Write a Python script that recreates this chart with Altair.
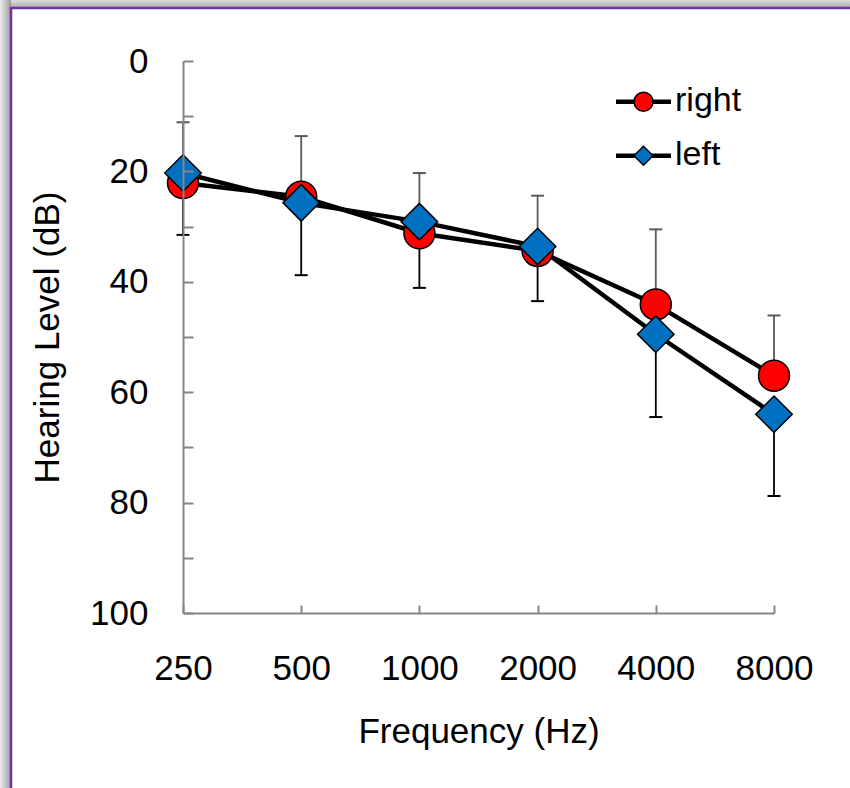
import altair as alt
import pandas as pd

# ---------------- data ----------------
freqs = ["250", "500", "1000", "2000", "4000", "8000"]
sides = ["right", "left"]
right_db = [22.1, 24.6, 31.2, 34.4, 44.1, 57.0]
right_sd = [11.0, 11.0, 10.9, 10.0, 13.6, 10.9]
left_db = [20.3, 25.7, 29.1, 33.6, 49.5, 64.0]
left_sd = [11.2, 13.1, 12.0, 9.9, 15.0, 14.8]
y_ticks = [0, 10, 20, 30, 40, 50, 60, 70, 80, 90, 100]
side_fill = ["#ff0000", "#0070c0"]
side_shape = ["circle", "diamond"]
side_size = [961, 1332]
err_color = ["#5a5a5a", "#000000"]

rows = []
for i, (f, m, s) in enumerate(zip(freqs, right_db, right_sd)):
    rows.append({"idx": i, "freq": f, "side": "right", "db": m, "end": m - s})
for i, (f, m, s) in enumerate(zip(freqs, left_db, left_sd)):
    rows.append({"idx": i, "freq": f, "side": "left", "db": m, "end": m + s})
df = pd.DataFrame(rows)
legend_df = pd.DataFrame({"side": sides})

# ---------------- layout ----------------
W, H = 591, 552
PL, PT = 183, 61
FONT = "Liberation Sans"
GRAY = "#868686"

x_scale = alt.Scale(type="point", domain=freqs, padding=0)
y_scale = alt.Scale(domain=[0, 100], reverse=True, nice=False, zero=False)
shape_scale = alt.Scale(domain=sides, range=side_shape)
fill_scale = alt.Scale(domain=sides, range=side_fill)

one = alt.Chart(pd.DataFrame({"k": [0]}))
shadow_top = one.mark_rect(
    fill=alt.LinearGradient(
        gradient="linear",
        stops=[alt.GradientStop(color="#dcdcdc", offset=0),
               alt.GradientStop(color="#a4a4a4", offset=1)],
        x1=0, x2=0, y1=0, y2=1)
).encode(x=alt.value(-PL), x2=alt.value(900 - PL), y=alt.value(-PT), y2=alt.value(9 - PT))
shadow_left = one.mark_rect(
    fill=alt.LinearGradient(
        gradient="linear",
        stops=[alt.GradientStop(color="#ececec", offset=0),
               alt.GradientStop(color="#9a9a9a", offset=1)],
        x1=0, x2=1, y1=0, y2=0)
).encode(x=alt.value(-PL), x2=alt.value(11 - PL), y=alt.value(-PT), y2=alt.value(850 - PT))
frame = one.mark_rect(fill="white", stroke="#7030a0", strokeWidth=2.5).encode(
    x=alt.value(11 - PL), x2=alt.value(900 - PL), y=alt.value(8 - PT), y2=alt.value(850 - PT)
)

base = alt.Chart(df)

main_x_axis = alt.Axis(
    title="Frequency (Hz)", labelAngle=0, labelFont=FONT, labelFontSize=35, labelColor="black",
    labelPadding=38, ticks=False, domain=True, domainColor=GRAY, domainWidth=2, grid=False,
    titleFont=FONT, titleFontSize=35, titleFontWeight="normal", titleColor="black",
    titlePadding=28, zindex=1,
)
main_y_axis = alt.Axis(
    title="Hearing Level (dB)", values=y_ticks,
    labelExpr="datum.value % 20 == 0 ? datum.label : ''",
    labelFont=FONT, labelFontSize=35, labelColor="black", labelPadding=35,
    ticks=False, domain=True, domainColor=GRAY, domainWidth=2, grid=False,
    titleFont=FONT, titleFontSize=35, titleFontWeight="normal", titleColor="black",
    titlePadding=24, zindex=1,
)
tick_x_axis = alt.Axis(
    orient="bottom", offset=-8, tickSize=8, tickWidth=2, tickColor=GRAY,
    labels=False, domain=False, grid=False, title=None, zindex=1,
)
tick_y_axis = alt.Axis(
    orient="left", offset=-10, tickSize=10, tickWidth=2, tickColor=GRAY, values=y_ticks,
    labels=False, domain=False, grid=False, title=None, zindex=1,
)

err = base.mark_rule(strokeWidth=1.8).encode(
    x=alt.X("freq:O", scale=x_scale, sort=freqs, axis=main_x_axis),
    y=alt.Y("db:Q", scale=y_scale, axis=main_y_axis),
    y2="end:Q",
    color=alt.Color("side:N", scale=alt.Scale(domain=sides, range=err_color), legend=None),
)
caps = base.mark_tick(orient="horizontal", size=13, thickness=2, opacity=1).encode(
    x=alt.X("freq:O", scale=x_scale, sort=freqs, axis=None),
    y=alt.Y("end:Q", scale=y_scale, axis=None),
    color=alt.Color("side:N", scale=alt.Scale(domain=sides, range=err_color), legend=None),
)
lines = base.mark_line(strokeWidth=4.5, color="black").encode(
    x=alt.X("freq:O", scale=x_scale, sort=freqs, axis=None),
    y=alt.Y("db:Q", scale=y_scale, axis=None),
    detail="side:N",
    order="idx:Q",
)
pts = base.mark_point(filled=True, stroke="black", strokeWidth=1.5, opacity=1).encode(
    x=alt.X("freq:O", scale=x_scale, sort=freqs, axis=tick_x_axis),
    y=alt.Y("db:Q", scale=y_scale, axis=tick_y_axis),
    shape=alt.Shape("side:N", scale=shape_scale, legend=None),
    fill=alt.Fill("side:N", scale=fill_scale, legend=None),
    size=alt.Size("side:N", scale=alt.Scale(domain=sides, range=side_size), legend=None),
)

# ---------------- legend (drawn from the `sides` list) ----------------
leg_y = alt.Y("side:N",
              scale=alt.Scale(type="point", domain=sides, range=[40.7, 94.7], padding=0),
              axis=None)
leg = alt.Chart(legend_df)
leg_line = leg.mark_rule(strokeWidth=4.5, color="black").encode(
    x=alt.value(616 - PL), x2=alt.value(671 - PL), y=leg_y
)
leg_sym = leg.mark_point(filled=True, stroke="black", strokeWidth=1.5, opacity=1, size=361).encode(
    x=alt.value(643.5 - PL), y=leg_y,
    shape=alt.Shape("side:N", scale=shape_scale, legend=None),
    fill=alt.Fill("side:N", scale=fill_scale, legend=None),
)
leg_text = leg.mark_text(align="left", baseline="middle", font=FONT, fontSize=34,
                         color="black", dy=-1).encode(
    x=alt.value(675 - PL), y=leg_y, text="side:N"
)

chart = (
    alt.layer(shadow_top, shadow_left, frame, err, caps, lines, pts, leg_line, leg_sym, leg_text)
    .resolve_scale(y="independent")
    .resolve_axis(x="independent", y="independent")
    .properties(
        width=W, height=H,
        padding={"left": PL, "top": PT, "right": 850 - PL - W, "bottom": 788 - PT - H},
        autosize=alt.AutoSizeParams(type="none"),
    )
    .configure(background="white")
    .configure_view(stroke=None)
)

chart.save("out.html", embed_options={"renderer": "svg", "actions": False})
